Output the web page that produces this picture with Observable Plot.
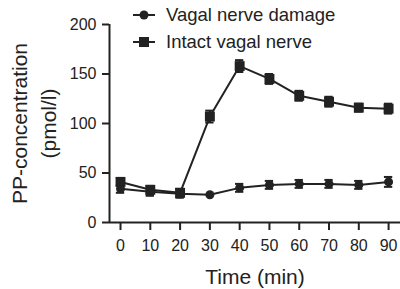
<!DOCTYPE html>
<html><head><meta charset="utf-8">
<script src="https://cdn.jsdelivr.net/npm/d3@7"></script>
<script src="https://cdn.jsdelivr.net/npm/@observablehq/plot@0.6"></script>
<style>
body{margin:0;background:#fff;}
#wrap{position:relative;width:400px;height:289px;font-family:"Liberation Sans",Arial,sans-serif;color:#222;}
.leg{position:absolute;left:133px;height:20px;font-size:18.5px;display:flex;align-items:center;white-space:nowrap;}
.leg svg{margin-right:11px;}
</style></head><body><div id="wrap"></div>
<script>
const times = [0, 10, 20, 30, 40, 50, 60, 70, 80, 90];
const damageMean = [34, 31, 29, 28, 35, 38, 39, 39, 38, 41];
const damageErr = [4, 4, 4, 0, 4, 4, 4, 4, 4, 5];
const intactMean = [41, 33, 30, 107, 158, 145, 128, 122, 116, 115];
const intactErr = [4, 4, 4, 6, 6, 5, 5, 5, 4, 5];
const seriesNames = ["Vagal nerve damage", "Intact vagal nerve"];
const xTicks = [0, 10, 20, 30, 40, 50, 60, 70, 80, 90];
const yTicks = [0, 50, 100, 150, 200];
const xTitle = "Time (min)";
const yTitle = "PP-concentration\n(pmol/l)";

const ink = "#222";
const damage = times.map((t, i) => ({t, v: damageMean[i], e: damageErr[i], s: seriesNames[0]}));
const intact = times.map((t, i) => ({t, v: intactMean[i], e: intactErr[i], s: seriesNames[1]}));
const rows = damage.concat(intact);
const bars = rows.filter(d => d.e > 0);
const xDomain = [-3.7, 94];

const chart = Plot.plot({
  width: 400, height: 289,
  marginLeft: 109, marginRight: 0, marginTop: 24, marginBottom: 67,
  x: {domain: xDomain},
  y: {domain: [0, 200]},
  style: {fontFamily: '"Liberation Sans", Arial, sans-serif', fontSize: "16px", color: ink, background: "#fff", overflow: "visible"},
  marks: [
    Plot.axisY({ticks: yTicks, tickSize: 7, tickPadding: 6, label: null, strokeWidth: 2, fontSize: 16}),
    Plot.axisX({ticks: xTicks, tickSize: 8, tickPadding: 9, label: null, strokeWidth: 2, fontSize: 16}),
    Plot.ruleX([xDomain[0]], {y1: 0, y2: 200, stroke: ink, strokeWidth: 2}),
    Plot.ruleY([0], {stroke: ink, strokeWidth: 2}),
    Plot.line(rows, {x: "t", y: "v", z: "s", stroke: ink, strokeWidth: 2}),
    Plot.ruleX(bars, {x: "t", y1: d => d.v - d.e, y2: d => d.v + d.e, stroke: ink, strokeWidth: 2}),
    Plot.ruleY(bars, {y: d => d.v - d.e, x1: d => d.t - 1.4, x2: d => d.t + 1.4, stroke: ink, strokeWidth: 2}),
    Plot.ruleY(bars, {y: d => d.v + d.e, x1: d => d.t - 1.4, x2: d => d.t + 1.4, stroke: ink, strokeWidth: 2}),
    Plot.dot(damage, {x: "t", y: "v", r: 4.5, fill: ink, symbol: "circle"}),
    Plot.dot(intact, {x: "t", y: "v", r: 5.6, fill: ink, symbol: "square"}),
    Plot.text([yTitle], {frameAnchor: "left", textAnchor: "middle", lineAnchor: "middle", dx: -77.5, rotate: -90, lineHeight: 1.38, fontSize: 21, fill: ink}),
    Plot.text([xTitle], {frameAnchor: "bottom", dy: 55, lineAnchor: "middle", fontSize: 21, fill: ink})
  ]
});

const wrap = document.getElementById("wrap");
wrap.appendChild(chart);
const legTops = [5, 32];
const legSymbols = [
  '<circle cx="11" cy="6" r="4.5" fill="#222"/>',
  '<rect x="6" y="1" width="10" height="10" fill="#222"/>'
];
seriesNames.forEach((name, i) => {
  const div = document.createElement("div");
  div.className = "leg";
  div.style.top = legTops[i] + "px";
  div.innerHTML = '<svg width="22" height="12"><line x1="0" x2="22" y1="6" y2="6" stroke="#222" stroke-width="2"/>' + legSymbols[i] + '</svg><span>' + name + '</span>';
  wrap.appendChild(div);
});
</script>
</body></html>
